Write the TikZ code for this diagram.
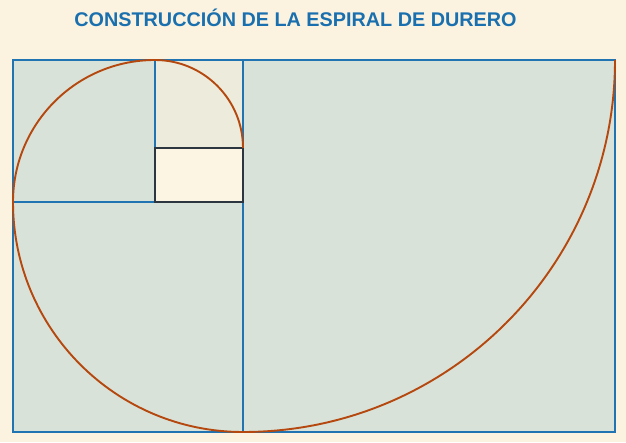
\documentclass[tikz,border=0pt]{standalone}
\usepackage{fontspec}
\setmainfont{Liberation Sans}
\usetikzlibrary{positioning}
\definecolor{paper}{HTML}{FBF3E0}
\definecolor{sqfill}{HTML}{D9E2D8}
\definecolor{smallfill}{HTML}{ECEBDC}
\definecolor{rectfill}{HTML}{FDF5E3}
\definecolor{edgeblue}{HTML}{1F74B1}
\definecolor{spiralc}{HTML}{B5480F}
\definecolor{rectedge}{HTML}{2B3640}
\definecolor{titleblue}{HTML}{1A70AE}

\begin{document}
\begin{tikzpicture}[x=1pt,y=1pt,
    square/.style={draw=edgeblue, line width=1.9pt, fill=sqfill},
    spiral/.style={draw=spiralc, line width=1.9pt},
    title/.style={font=\bfseries\fontsize{19.8}{21}\selectfont, text=titleblue}]

    % background
    \fill[paper] (0,0) rectangle (626,442);
    \useasboundingbox (0,0) rectangle (626,442);

    %nodes
    \coordinate (bl) at (13,10);
    \coordinate (tr) at (615,382);
    \coordinate (mb) at (243,10);
    \coordinate (mt) at (243,382);
    \coordinate (ml) at (13,240);
    \coordinate (mm) at (243,240);
    \coordinate (qt) at (155,382);
    \coordinate (qm) at (155,240);
    \coordinate (rt) at (155,294);
    \coordinate (rr) at (243,294);
    \node[title] (head) at (295.5,424) {CONSTRUCCIÓN DE LA ESPIRAL DE DURERO};

    % squares
    \draw[square] (mb) rectangle (tr);
    \draw[square] (bl) rectangle (mm);
    \draw[square] (ml) rectangle (qt);
    \draw[square, fill=smallfill] (rt) rectangle (mt);
    \draw[draw=rectedge, line width=1.9pt, fill=rectfill] (qm) rectangle (rr);

    % spiral
    \draw[spiral] (tr) arc[start angle=0, end angle=-90, radius=372]
                  arc[start angle=-90, end angle=-180, radius=230]
                  arc[start angle=180, end angle=90, radius=142]
                  arc[start angle=90, end angle=0, radius=88];
\end{tikzpicture}
\end{document}
